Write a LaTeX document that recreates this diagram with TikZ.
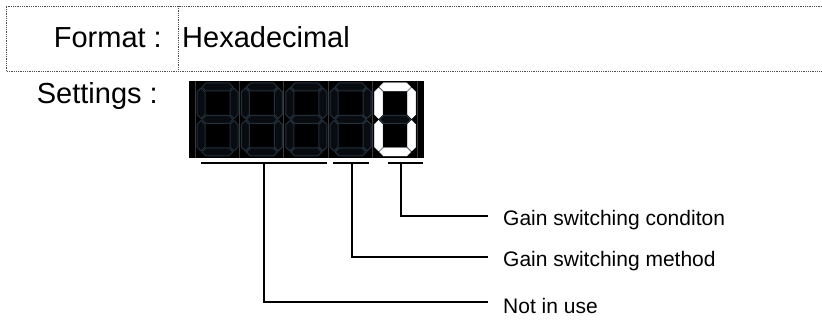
\documentclass[tikz,border=0pt]{standalone}
\usepackage{fontspec}
\setmainfont{Liberation Sans}

\definecolor{segdim}{HTML}{22303C}
\definecolor{segoff}{HTML}{080C10}
\definecolor{frameline}{HTML}{505050}
\definecolor{divline}{HTML}{3A3A3A}

\newcommand*{\cellw}{44.4}
\newcommand*{\digitx}{197}
\newcommand*{\digity}{83}

\begin{document}
\begin{tikzpicture}
[
	x=1pt, y=-1pt,
	table/.style={densely dotted,line width=0.8pt,draw=frameline},
	bigtext/.style={font=\fontsize{29}{34}\selectfont,inner sep=0pt},
	lbl/.style={font=\fontsize{21}{25}\selectfont,inner sep=0pt,anchor=west},
	conn/.style={line width=1.2pt},
	segoffstyle/.style={fill=segoff,draw=segdim,line width=1pt},
	segonstyle/.style={fill=white,draw=white,line width=0.5pt},
	hseg/.pic={\path[pic actions] (-15.5,0) -- (-11.5,-4) -- (11.5,-4) -- (15.5,0) -- (11.5,4) -- (-11.5,4) -- cycle;},
	vseg/.pic={\path[pic actions] (0,-15.25) -- (4,-11.25) -- (4,11.25) -- (0,15.25) -- (-4,11.25) -- (-4,-11.25) -- cycle;}
]
	\useasboundingbox (0,0) rectangle (822,320);

	% format table
	\draw[table] (822,6) -- (6,6) -- (6,71) -- (822,71);
	\draw[table] (178,6) -- (178,71);
	\node[bigtext,anchor=base east] (fmt) at (162,48) {Format :};
	\node[bigtext,anchor=base west] (hex) at (182,48) {Hexadecimal};
	\node[bigtext,anchor=base east] (set) at (158,104) {Settings :};

	% display
	\fill[black] (189,81) rectangle (424,158);
	\foreach \i in {0,...,5} {
		\draw[divline,line width=0.8pt] (195+\i*\cellw,81) -- ++(0,77);
	}
	\foreach \i in {0,...,4} {
		\begin{scope}[shift={(\digitx+\i*\cellw,\digity)}]
			\foreach \y in {4,36.5,69} {
				\pic[segoffstyle] at (20.5,\y) {hseg};
			}
			\foreach \x in {4,37} {
				\foreach \y in {20.25,52.75} {
					\pic[segoffstyle] at (\x,\y) {vseg};
				}
			}
		\end{scope}
	}
	% lit digit: 0
	\begin{scope}[shift={(\digitx+4*\cellw,\digity)}]
		\foreach \y in {4,69} {
			\pic[segonstyle] at (20.5,\y) {hseg};
		}
		\foreach \x in {4,37} {
			\foreach \y in {20.25,52.75} {
				\pic[segonstyle] at (\x,\y) {vseg};
			}
		}
	\end{scope}

	% digit groups
	\draw[conn] (201,163) -- (327,163);
	\draw[conn] (333,163) -- (369,163);
	\draw[conn] (388,163) -- (423,163);
	\coordinate (u1) at (264,163);
	\coordinate (u2) at (352,163);
	\coordinate (u3) at (401,163);

	\node[lbl] (cond) at (503,220) {Gain switching conditon};
	\node[lbl] (meth) at (503,261) {Gain switching method};
	\node[lbl] (unused) at (503,306) {Not in use};

	\draw[conn] (u3) |- ([xshift=-15pt,yshift=4pt]cond.west);
	\draw[conn] (u2) |- ([xshift=-15pt,yshift=4pt]meth.west);
	\draw[conn] (u1) |- ([xshift=-15pt,yshift=4pt]unused.west);

\end{tikzpicture}
\end{document}
